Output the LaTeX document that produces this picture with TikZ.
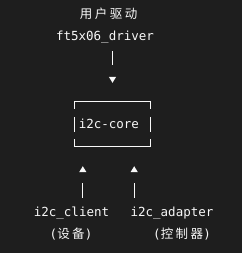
\documentclass[tikz,border=0pt]{standalone}
\usepackage{fontspec}
\setmonofont{DejaVu Sans Mono}
\newfontfamily\cjk[LetterSpace=20]{Noto Sans CJK SC}
\usetikzlibrary{arrows.meta}
\definecolor{bg}{RGB}{30,30,30}
\definecolor{fg}{RGB}{248,248,248}

\begin{document}
\begin{tikzpicture}[
    x=1pt,y=1pt,
    font=\ttfamily\fontsize{12.5}{14}\selectfont,
    text=fg,
    line cap=butt,
    txt/.style={inner sep=0pt, anchor=base},
    corebox/.style={inner xsep=3.75pt, inner ysep=0pt, text width=67.5pt,
        align=left, minimum width=75pt, minimum height=44pt},
    frame/.style={draw=fg, line width=1.1pt},
    link/.style={draw=fg, line width=1.1pt, -{Triangle[width=7pt,length=6pt]}}
]

\fill[bg] (0,0) rectangle (242,-253);
\useasboundingbox (0,0) rectangle (242,-253);

% top: user driver
\node[txt] (user) at (108.5,-19) {\cjk 用户驱动};
\node[txt] (drv) at (105,-41) {ft5x06\_driver};

% core box (drawn like text-art corners)
\node[corebox] (core) at (112.5,-124) {i2c-core};
\draw[frame] ([yshift=-7pt]core.north west) -- (core.north west)
    -- (core.north east) -- ++(0,-7);
\draw[frame] ([yshift=7pt]core.south west) -- (core.south west)
    -- (core.south east) -- ++(0,7);
\draw[frame] ([yshift=-15pt]core.north west) -- ([yshift=14pt]core.south west);
\draw[frame] ([yshift=-15pt]core.north east) -- ([yshift=14pt]core.south east);

% bottom: client and adapter
\node[txt] (client) at (71.5,-216) {i2c\_client};
\node[txt] (adapter) at (172,-216) {i2c\_adapter};
\node[txt] (dev) at (71,-238) {(\cjk 设备\ttfamily)};
\node[txt] (ctl) at (182,-238) {(\cjk 控制器\ttfamily)};

\coordinate (cin) at ([xshift=8pt]core.south west);
\coordinate (ain) at ([xshift=-16pt]core.south east);

% connectors
\draw[link, dash pattern=on 14pt off 30pt, shorten <=7pt, shorten >=19pt]
    (drv.south -| core.north) -- (core.north);
\draw[link, dash pattern=on 15pt off 30pt, shorten <=8.5pt, shorten >=20pt]
    (client.north -| cin) -- (cin);
\draw[link, dash pattern=on 15pt off 30pt, shorten <=8.5pt, shorten >=20pt]
    (adapter.north -| ain) -- (ain);

\end{tikzpicture}
\end{document}
